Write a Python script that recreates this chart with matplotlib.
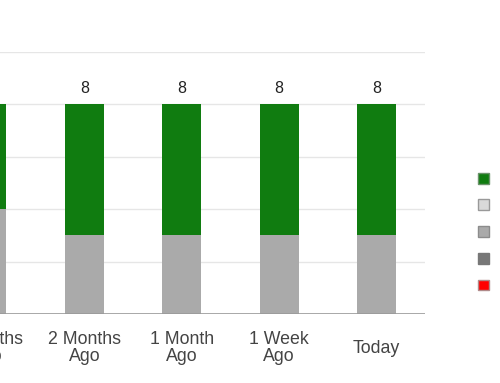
import matplotlib
matplotlib.use("Agg")
from matplotlib import pyplot as plt
from matplotlib.patches import Patch
import numpy as np

plt.rcParams['font.family'] = ['Liberation Sans', 'DejaVu Sans']

# chart data
categories = ["3 Months\nAgo", "2 Months\nAgo", "1 Month\nAgo", "1 Week\nAgo", "Today"]
gray_counts = [4, 3, 3, 3, 3]
green_counts = [4, 5, 5, 5, 5]
y_ticks = [0, 2, 4, 6, 8, 10]

# legend series colours (labels are off the visible canvas)
legend_colors = ["#107c10", "#d9d9d9", "#aaaaaa", "#777777", "#ff0000"]
legend_edges = ["#6a926a", "#999999", "#8c8c8c", "#777777", "#b08a8a"]

GREEN = "#107c10"
GRAY = "#aaaaaa"

fig = plt.figure(figsize=(5.0, 3.83), dpi=100)
# axes deliberately extend past the left edge (the reference is cropped)
ax = fig.add_axes([-0.1236, 0.180, 0.974, 0.684])

x = np.arange(len(categories))
totals = np.array(gray_counts) + np.array(green_counts)
ax.bar(x, gray_counts, width=0.40, color=GRAY, zorder=2)
ax.bar(x, green_counts, width=0.40, bottom=gray_counts, color=GREEN, zorder=2)

for xi, t in zip(x, totals):
    ax.annotate(str(t), (xi, t), xytext=(0, 11.5), textcoords="offset points",
                ha="center", va="center", fontsize=11.5, color="#222222")

ax.set_xlim(-0.5, len(categories) - 0.5)
ax.set_ylim(0, 10)
ax.set_yticks(y_ticks)
ax.set_yticklabels([])
for v in y_ticks[1:]:
    ax.axhline(v, color="#e6e6e6", lw=1, zorder=1)
ax.axhline(0, color="#9a9a9a", lw=1.2, zorder=3)

ax.set_xticks(x)
ax.set_xticklabels(categories, fontsize=12.8, color="#444444", linespacing=0.98)
for lab in ax.get_xticklabels():
    lab.set_va("center")
ax.tick_params(axis="x", length=0, pad=24.5)
ax.tick_params(axis="y", length=0)
for s in ax.spines.values():
    s.set_visible(False)

handles = [Patch(facecolor=c, edgecolor=e, lw=1) for c, e in zip(legend_colors, legend_edges)]
fig.legend(handles, [""] * len(handles), loc="upper left",
           bbox_to_anchor=(0.945, 0.562), frameon=False, fontsize=9,
           handlelength=0.95, handleheight=0.95, labelspacing=1.12,
           handletextpad=0.4, borderaxespad=0)

fig.savefig("out.png", dpi=100)
